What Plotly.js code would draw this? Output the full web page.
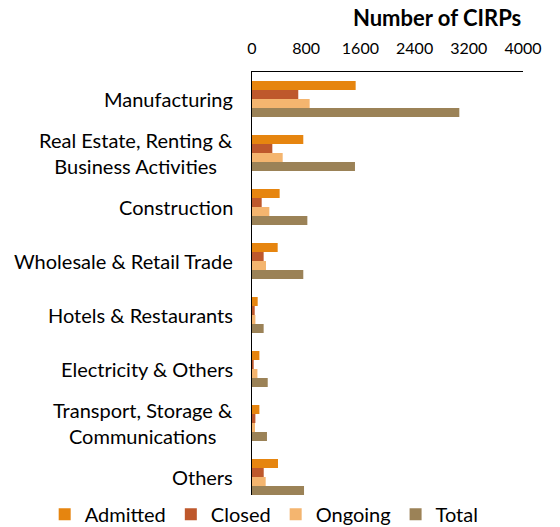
<!DOCTYPE html>
<html>
<head>
<meta charset="utf-8">
<script src="https://cdn.plot.ly/plotly-3.0.1.min.js"></script>
<style>html,body{margin:0;padding:0;background:#fff;}#chart{width:560px;height:527px;}</style>
</head>
<body>
<div id="chart"></div>
<script>
const categories = [
  "Manufacturing",
  "Real Estate, Renting &<br>Business Activities",
  "Construction",
  "Wholesale & Retail Trade",
  "Hotels & Restaurants",
  "Electricity & Others",
  "Transport, Storage &<br>Communications",
  "Others"
];
const seriesNames = ["Admitted", "Closed", "Ongoing", "Total"];
const admitted = [1530, 757, 408, 379, 84, 109, 109, 384];
const closed   = [683, 300, 143, 172, 40, 25, 50, 173];
const ongoing  = [851, 453, 256, 207, 50, 80, 44, 202];
const total    = [3060, 1520, 817, 757, 172, 232, 221, 768];
const xTicks = [0, 800, 1600, 2400, 3200, 4000];
const colors = ["#E6850F", "#BE582C", "#F4B56F", "#9B8257"];

const values = [admitted, closed, ongoing, total];
const FONT = "Lato, 'Open Sans', sans-serif";

const traces = values.map((v, i) => ({
  type: "bar",
  orientation: "h",
  name: seriesNames[i],
  x: v,
  y: categories,
  marker: { color: colors[i] },
  hoverinfo: "x+name"
}));

const annotations = categories.map(c => ({
  text: c,
  xref: "paper",
  yref: "y",
  x: 0,
  y: c,
  xanchor: "right",
  yanchor: "middle",
  xshift: -17,
  align: "center",
  showarrow: false,
  font: { family: FONT, size: 20, color: "#000" }
}));

const layout = {
  width: 560,
  height: 527,
  margin: { l: 252, r: 37, t: 72, b: 23, autoexpand: false },
  paper_bgcolor: "#fff",
  plot_bgcolor: "#fff",
  font: { family: FONT, color: "#000" },
  title: {
    text: "<b>Number of CIRPs</b>",
    font: { family: FONT, size: 22, color: "#000" },
    xref: "paper",
    x: 0.683,
    xanchor: "center",
    yref: "container",
    y: 0.966,
    yanchor: "middle"
  },
  barmode: "group",
  bargap: 0.333,
  bargroupgap: 0,
  xaxis: {
    side: "top",
    range: [0, 4000],
    tickvals: xTicks,
    ticktext: xTicks.map(String),
    showgrid: false,
    zeroline: false,
    showline: true,
    linecolor: "#000",
    linewidth: 1.5,
    ticks: "",
    ticklabelstandoff: 10,
    tickfont: { family: FONT, size: 16, color: "#000" },
    fixedrange: true
  },
  yaxis: {
    type: "category",
    autorange: "reversed",
    showticklabels: false,
    showgrid: false,
    zeroline: false,
    showline: true,
    linecolor: "#000",
    linewidth: 1.5,
    ticks: "",
    fixedrange: true
  },
  legend: {
    orientation: "h",
    xref: "paper",
    x: -0.765,
    xanchor: "left",
    yref: "paper",
    y: -0.024,
    yanchor: "middle",
    font: { family: FONT, size: 20, color: "#000" },
    traceorder: "normal",
    itemclick: false
  },
  annotations: annotations,
  showlegend: true
};

Plotly.newPlot("chart", traces, layout, { displayModeBar: false, staticPlot: true });
</script>
</body>
</html>
